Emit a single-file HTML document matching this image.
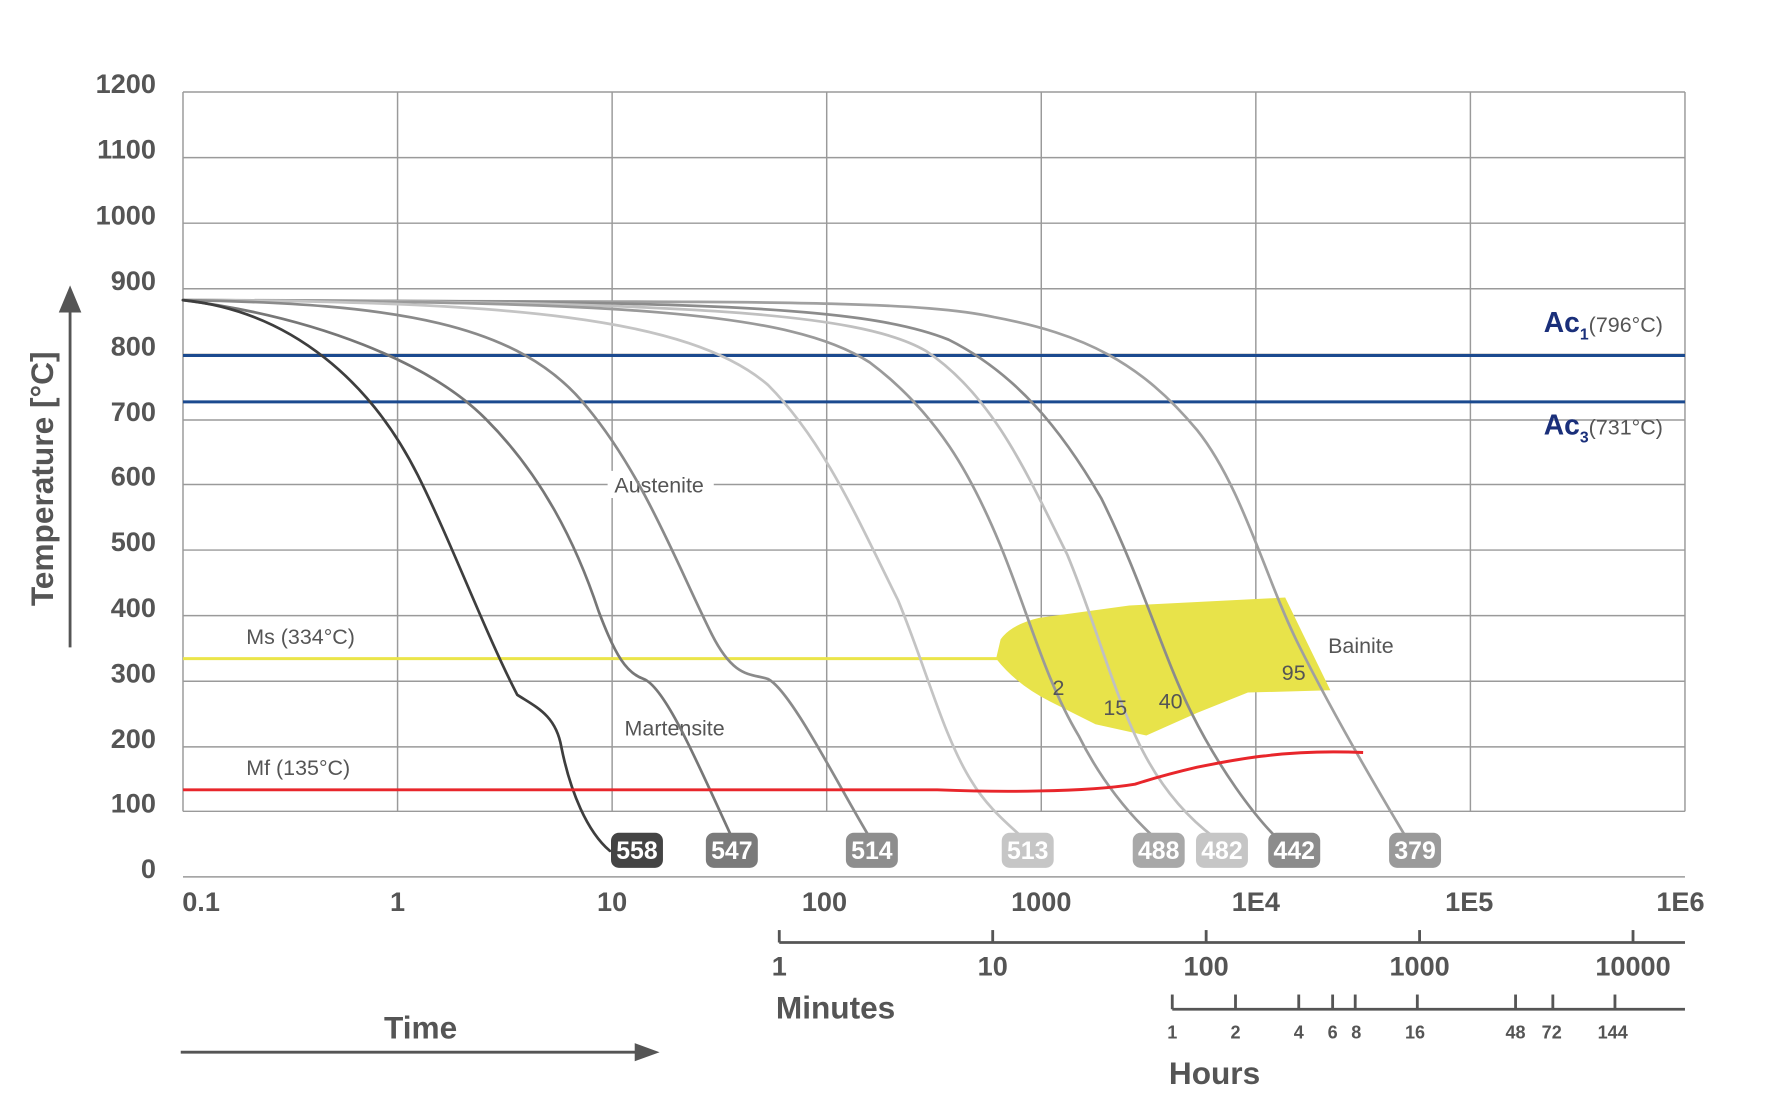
<!DOCTYPE html>
<html><head><meta charset="utf-8"><style>
html,body{margin:0;padding:0;background:#fff;width:1771px;height:1106px;overflow:hidden}
svg{display:block}
text{font-family:"Liberation Sans",sans-serif}
</style></head><body>
<svg width="1771" height="1106" viewBox="0 0 1771 1106" xmlns="http://www.w3.org/2000/svg">
<g transform="translate(183,92) scale(1.1293,1.131) translate(-162,-81)">
<!-- grid -->
<g stroke="#9a9a9a" stroke-width="1.3" fill="none">
<line x1="162" y1="81" x2="1492" y2="81"/>
<line x1="162" y1="139" x2="1492" y2="139"/>
<line x1="162" y1="197" x2="1492" y2="197"/>
<line x1="162" y1="255" x2="1492" y2="255"/>
<line x1="162" y1="313" x2="1492" y2="313"/>
<line x1="162" y1="371" x2="1492" y2="371"/>
<line x1="162" y1="428" x2="1492" y2="428"/>
<line x1="162" y1="486" x2="1492" y2="486"/>
<line x1="162" y1="544" x2="1492" y2="544"/>
<line x1="162" y1="602" x2="1492" y2="602"/>
<line x1="162" y1="660" x2="1492" y2="660"/>
<line x1="162" y1="717" x2="1492" y2="717"/>
<line x1="162" y1="775" x2="1492" y2="775"/>
<line x1="162" y1="81" x2="162" y2="717"/>
<line x1="352" y1="81" x2="352" y2="717"/>
<line x1="542" y1="81" x2="542" y2="717"/>
<line x1="732" y1="81" x2="732" y2="717"/>
<line x1="922" y1="81" x2="922" y2="717"/>
<line x1="1112" y1="81" x2="1112" y2="717"/>
<line x1="1302" y1="81" x2="1302" y2="717"/>
<line x1="1492" y1="81" x2="1492" y2="717"/>
</g>
<!-- Ac lines -->
<line x1="162" y1="314" x2="1492" y2="314" stroke="#1b4a8f" stroke-width="2.6"/>
<line x1="162" y1="355" x2="1492" y2="355" stroke="#1b4a8f" stroke-width="2.6"/>
<!-- bainite -->
<path d="M882,582 L886,565 Q895,552 920,546 L1000,535 L1138,528 L1178,610 L1105,612 L1060,630 L1015,650 L970,640 L930,620 Q900,605 882,582 Z" fill="#e8e34a"/>
<!-- Ms -->
<line x1="162" y1="582" x2="884" y2="582" stroke="#ebe54a" stroke-width="2.6"/>
<!-- labels with white bg -->
<rect x="538" y="416" width="94" height="24" fill="#fff"/>
<text x="544" y="435" font-size="19" fill="#555">Austenite</text>
<rect x="548" y="630" width="104" height="24" fill="#fff"/>
<text x="553" y="650" font-size="19" fill="#555">Martensite</text>
<!-- curves -->
<g fill="none" stroke-width="2.4" stroke-linecap="round" stroke-linejoin="round">
<path stroke="#a0a0a0" d="M162,265 C600,268 800,262 880,280 C960,295 1010,320 1060,380 C1100,430 1120,510 1150,570 C1180,630 1215,690 1245,740"/>
<path stroke="#8c8c8c" d="M162,265 C600,266 760,268 840,300 C900,330 940,380 975,440 C1010,510 1030,580 1055,630 C1080,680 1110,720 1130,740"/>
<path stroke="#c0c0c0" d="M162,265 C600,266 760,275 820,310 C880,350 910,420 945,490 C970,550 985,610 1010,660 C1030,700 1055,725 1075,740"/>
<path stroke="#9a9a9a" d="M162,265 C550,266 700,275 770,320 C830,365 860,420 885,480 C910,540 925,600 955,650 C975,690 1000,720 1022,740"/>
<path stroke="#c4c4c4" d="M162,265 C450,266 610,280 680,340 C730,390 760,460 795,530 C820,590 835,650 860,690 C875,715 895,730 905,740"/>
<path stroke="#8a8a8a" d="M162,265 C350,268 460,285 520,360 C570,420 600,500 630,560 C650,600 665,595 680,600 C700,610 740,690 770,740"/>
<path stroke="#777" d="M162,265 C280,280 380,320 430,370 C480,420 510,480 530,540 C545,580 555,595 570,600 C590,608 620,680 648,740"/>
<path stroke="#3e3e3e" d="M162,265 C260,275 330,340 370,420 C400,480 430,560 458,614 C475,625 492,632 497,660 C505,700 520,735 540,752"/>
</g>
<!-- Mf -->
<path d="M162,698 L830,698 Q880,700 920,699 Q975,698 1005,693 Q1030,685 1060,678 Q1100,670 1120,668 Q1160,663 1207,665" fill="none" stroke="#e8262b" stroke-width="2.6"/>
<!-- text in chart -->
<g font-size="19" fill="#555">
<text x="218" y="569">Ms (334°C)</text>
<text x="218" y="685">Mf (135°C)</text>
<text x="1176" y="577">Bainite</text>
<text x="1135" y="601">95</text>
<text x="932" y="614">2</text>
<text x="977" y="632">15</text>
<text x="1026" y="626">40</text>
</g>
<text x="1367" y="293" font-size="25" font-weight="bold" fill="#1a2f7a">Ac<tspan font-size="14" dy="7">1</tspan><tspan font-size="19" font-weight="normal" fill="#555" dy="-7">(796°C)</tspan></text>
<text x="1367" y="384" font-size="25" font-weight="bold" fill="#1a2f7a">Ac<tspan font-size="14" dy="7">3</tspan><tspan font-size="19" font-weight="normal" fill="#555" dy="-7">(731°C)</tspan></text>
<!-- badges -->
<g font-size="22" font-weight="bold" fill="#fff" text-anchor="middle">
<rect x="541" y="736" width="46" height="31" rx="7" fill="#444"/><text x="564" y="759">558</text>
<rect x="625" y="736" width="46" height="31" rx="7" fill="#7a7a7a"/><text x="648" y="759">547</text>
<rect x="749" y="736" width="46" height="31" rx="7" fill="#8e8e8e"/><text x="772" y="759">514</text>
<rect x="887" y="736" width="46" height="31" rx="7" fill="#c6c6c6"/><text x="910" y="759">513</text>
<rect x="1003" y="736" width="46" height="31" rx="7" fill="#a8a8a8"/><text x="1026" y="759">488</text>
<rect x="1059" y="736" width="46" height="31" rx="7" fill="#c6c6c6"/><text x="1082" y="759">482</text>
<rect x="1123" y="736" width="46" height="31" rx="7" fill="#8c8c8c"/><text x="1146" y="759">442</text>
<rect x="1230" y="736" width="46" height="31" rx="7" fill="#9a9a9a"/><text x="1253" y="759">379</text>
</g>
<!-- y tick labels -->
<g font-size="24" font-weight="bold" fill="#555" text-anchor="end">
<text x="138" y="82">1200</text><text x="138" y="140">1100</text><text x="138" y="198">1000</text>
<text x="138" y="256">900</text><text x="138" y="314">800</text><text x="138" y="372">700</text>
<text x="138" y="429">600</text><text x="138" y="487">500</text><text x="138" y="545">400</text>
<text x="138" y="603">300</text><text x="138" y="661">200</text><text x="138" y="718">100</text>
<text x="138" y="776">0</text>
</g>
<!-- x tick labels -->
<g font-size="24" font-weight="bold" fill="#555" text-anchor="middle">
<text x="178" y="805">0.1</text><text x="352" y="805">1</text><text x="542" y="805">10</text>
<text x="730" y="805">100</text><text x="922" y="805">1000</text><text x="1112" y="805">1E4</text>
<text x="1301" y="805">1E5</text><text x="1488" y="805">1E6</text>
</g>
<!-- minutes axis -->
<g stroke="#555" stroke-width="2.5">
<line x1="690" y1="833" x2="1492" y2="833"/>
<line x1="690" y1="822" x2="690" y2="833"/><line x1="879" y1="822" x2="879" y2="833"/>
<line x1="1068" y1="822" x2="1068" y2="833"/><line x1="1257" y1="822" x2="1257" y2="833"/>
<line x1="1446" y1="822" x2="1446" y2="833"/>
<line x1="1038" y1="892" x2="1492" y2="892"/>
<line x1="1038" y1="879" x2="1038" y2="892"/><line x1="1094" y1="879" x2="1094" y2="892"/>
<line x1="1150" y1="879" x2="1150" y2="892"/><line x1="1180" y1="879" x2="1180" y2="892"/>
<line x1="1200" y1="879" x2="1200" y2="892"/><line x1="1255" y1="879" x2="1255" y2="892"/>
<line x1="1342" y1="879" x2="1342" y2="892"/><line x1="1375" y1="879" x2="1375" y2="892"/>
<line x1="1430" y1="879" x2="1430" y2="892"/>
</g>
<g font-size="24" font-weight="bold" fill="#555" text-anchor="middle">
<text x="690" y="862">1</text><text x="879" y="862">10</text><text x="1068" y="862">100</text>
<text x="1257" y="862">1000</text><text x="1446" y="862">10000</text>
</g>
<g font-size="16" font-weight="bold" fill="#555" text-anchor="middle">
<text x="1038" y="918">1</text><text x="1094" y="918">2</text><text x="1150" y="918">4</text>
<text x="1180" y="918">6</text><text x="1201" y="918">8</text><text x="1253" y="918">16</text>
<text x="1342" y="918">48</text><text x="1374" y="918">72</text><text x="1428" y="918">144</text>
</g>
<text x="687" y="900" font-size="28" font-weight="bold" fill="#555">Minutes</text>
<text x="1035" y="958" font-size="28" font-weight="bold" fill="#555">Hours</text>
<text x="340" y="918" font-size="28" font-weight="bold" fill="#555">Time</text>
<line x1="160" y1="930" x2="575" y2="930" stroke="#555" stroke-width="2.5"/>
<path d="M562,922 L584,930 L562,938 Z" fill="#555"/>
<!-- temperature axis -->
<line x1="62" y1="572" x2="62" y2="268" stroke="#555" stroke-width="2.5"/>
<path d="M52,276 L62,252 L72,276 Z" fill="#555"/>
<text transform="translate(47,423) rotate(-90)" font-size="28" font-weight="bold" fill="#555" text-anchor="middle">Temperature [°C]</text>
</g>
</svg>
</body></html>
